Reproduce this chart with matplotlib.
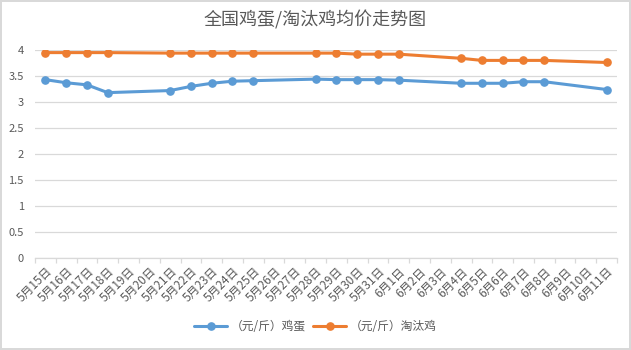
import numpy as np
import matplotlib
matplotlib.use("Agg")
import matplotlib.pyplot as plt

plt.rcParams["font.family"] = ["Noto Sans CJK SC", "DejaVu Sans"]

# %% Data

dates = ["5月%d日" % d for d in range(15, 32)] + ["6月%d日" % d for d in range(1, 12)]

# None = no quote that day (weekends), line joins across the gap
egg = [3.43, 3.37, 3.33, 3.18, None, None, 3.22, 3.30, 3.36, 3.40, 3.41,
       None, None, 3.44, 3.43, 3.43, 3.43, 3.42, None, None, 3.36, 3.36,
       3.36, 3.39, 3.39, None, None, 3.24]
hen = [3.95, 3.95, 3.95, 3.95, None, None, 3.94, 3.94, 3.94, 3.94, 3.94,
       None, None, 3.94, 3.94, 3.92, 3.92, 3.92, None, None, 3.84, 3.80,
       3.80, 3.80, 3.80, None, None, 3.76]

egg_label = "（元/斤）鸡蛋"
hen_label = "（元/斤）淘汰鸡"
title = "全国鸡蛋/淘汰鸡均价走势图"

blue = "#5B9BD5"
orange = "#ED7D31"
txt = "#595959"
grid = "#D9D9D9"


def valid(vals):
    idx = [i for i, v in enumerate(vals) if v is not None]
    return idx, [vals[i] for i in idx]


# %% Plot

fig = plt.figure(figsize=(6.31, 3.5), dpi=100)
fig.patch.set_edgecolor(grid)
fig.patch.set_linewidth(1.5)
ax = fig.add_axes([35 / 631, 1 - 258 / 350, 582 / 631, 208 / 350])

for vals, color, label in [(egg, blue, egg_label), (hen, orange, hen_label)]:
    x, y = valid(vals)
    ax.plot(x, y, color=color, lw=2.2, marker="o", ms=5.2, label=label,
            solid_capstyle="round", zorder=3)

ax.set_xlim(-0.5, len(dates) - 0.5)
ax.set_ylim(0, 4)
ax.set_yticks(np.arange(0, 4.01, 0.5))
ax.set_yticklabels(["%g" % v for v in np.arange(0, 4.01, 0.5)])
ax.yaxis.grid(True, color=grid, lw=0.9)
ax.set_axisbelow(True)

ax.set_xticks(np.arange(len(dates)))
ax.set_xticklabels(dates, rotation=45, ha="right", va="top",
                   rotation_mode="anchor")
ax.set_xticks(np.arange(len(dates) + 1) - 0.5, minor=True)
ax.tick_params(axis="x", which="major", length=0, pad=5, labelsize=8.5,
               colors=txt)
ax.tick_params(axis="x", which="minor", length=3.5, color=grid, width=0.9)
ax.tick_params(axis="y", length=0, labelsize=8, colors=txt, pad=8)

for s in ["left", "right", "top"]:
    ax.spines[s].set_visible(False)
ax.spines["bottom"].set_color(grid)
ax.spines["bottom"].set_linewidth(0.9)

fig.text(0.5, 1 - 20 / 350, title, ha="center", va="center", fontsize=13,
         color=txt)

fig.legend(loc="center", bbox_to_anchor=(0.5, 1 - 327 / 350), ncol=2,
           frameon=False, fontsize=8.5, labelcolor=txt, handlelength=2.8,
           columnspacing=0.6, handletextpad=0.3)

fig.savefig("out.png", dpi=100)
